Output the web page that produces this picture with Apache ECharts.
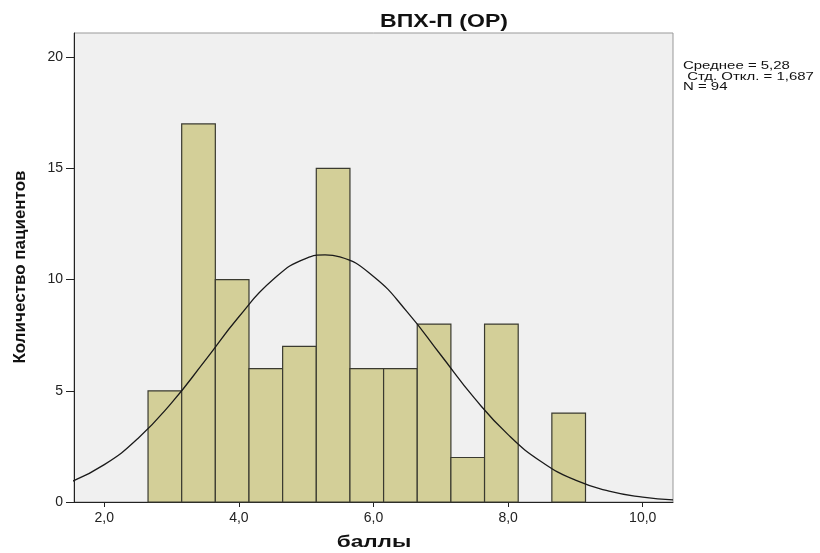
<!DOCTYPE html>
<html><head><meta charset="utf-8">
<script src="https://cdn.jsdelivr.net/npm/echarts@6/dist/echarts.min.js"></script>
<style>html,body{margin:0;padding:0;background:#fff}#c{width:820px;height:553px}</style>
</head><body><div id="c"></div>
<script>
const binStarts = [2.65,3.15,3.65,4.15,4.65,5.15,5.65,6.15,6.65,7.15,7.65,8.15,8.65];
const counts    = [5,17,10,6,7,15,6,6,8,2,8,0,4];
const binWidth = 0.5;
const curveX = [1.5,2.0,2.5,3.0,3.5,4.0,4.5,5.0,5.28,5.5,6.0,6.5,7.0,7.5,8.0,8.5,9.0,9.5,10.0,10.45];
const curveY = [0.90,1.68,2.86,4.46,6.37,8.33,9.98,10.96,11.11,11.02,10.14,8.55,6.61,4.67,3.03,1.80,0.98,0.49,0.22,0.10];
const xTicks = [2,4,6,8,10];
const yTicks = [0,5,10,15,20];
const statsLines = ['Среднее = 5,28',' Стд. Откл. = 1,687','N = 94'];
const title = 'ВПХ-П (ОР)';
const xName = 'баллы';
const yName = 'Количество пациентов';

const barData = binStarts.map((s,i)=>[s, s+binWidth, counts[i]]).filter(d=>d[2]>0);
const lineData = curveX.map((x,i)=>[x, curveY[i]]);
const font = 'Liberation Sans, Arial, sans-serif';

const graphics = [
  {type:'text',x:444,y:22,scaleX:1.28,style:{text:title,font:'bold 18px '+font,fill:'#111',textAlign:'center',textVerticalAlign:'middle'}},
  {type:'text',x:374,y:542,scaleX:1.33,style:{text:xName,font:'bold 17px '+font,fill:'#111',textAlign:'center',textVerticalAlign:'middle'}},
  {type:'text',x:20,y:267,rotation:Math.PI/2,style:{text:yName,font:'bold 17px '+font,fill:'#111',textAlign:'center',textVerticalAlign:'middle'}}
];
statsLines.forEach((t,i)=>{
  graphics.push({type:'text',x:683,y:66+i*10.6,scaleX:1.36,style:{text:t,font:'11px '+font,fill:'#111',textAlign:'left',textVerticalAlign:'middle'}});
});

const chart = echarts.init(document.getElementById('c'));
chart.setOption({
  animation:false,
  backgroundColor:'#fff',
  grid:{left:74,right:147,top:33,bottom:51,outerBoundsMode:'none',containLabel:false,show:true,backgroundColor:'#f0f0f0',borderColor:'#999',borderWidth:1},
  graphic:graphics,
  xAxis:{type:'value',min:1.55,max:10.45,
    axisLine:{show:true,lineStyle:{color:'#222',width:1}},
    axisTick:{show:true,length:5,customValues:xTicks,lineStyle:{color:'#222'}},
    axisLabel:{customValues:xTicks,fontFamily:font,fontSize:14,color:'#222',margin:9,formatter:v=>v.toFixed(1).replace('.',',')},
    splitLine:{show:false}},
  yAxis:{type:'value',min:0,max:21.09,
    axisLine:{show:true,lineStyle:{color:'#222',width:1}},
    axisTick:{show:true,length:8,customValues:yTicks,lineStyle:{color:'#222'}},
    axisLabel:{customValues:yTicks,fontFamily:font,fontSize:14,color:'#222',margin:11},
    splitLine:{show:false}},
  series:[
    {type:'custom',data:barData,encode:{x:[0,1],y:2},
     renderItem:function(params,api){
       const p0=api.coord([api.value(0),api.value(2)]);
       const p1=api.coord([api.value(1),0]);
       return {type:'rect',shape:{x:p0[0],y:p0[1],width:p1[0]-p0[0],height:p1[1]-p0[1]},
         style:{fill:'#d3cf98',stroke:'#3a3a30',lineWidth:1.2}};
     }},
    {type:'line',data:lineData,smooth:true,symbol:'none',clip:true,
     lineStyle:{color:'#1a1a1a',width:1.3},z:5}
  ]
});
</script></body></html>
